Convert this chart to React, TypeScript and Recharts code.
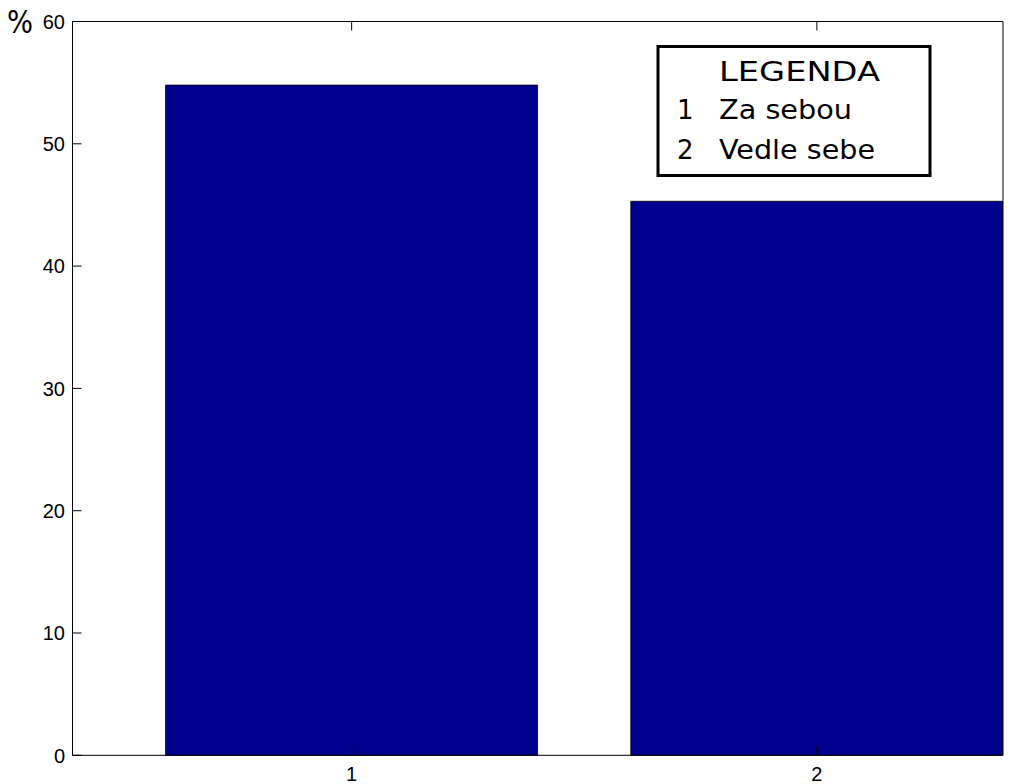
import React from "react";
import { BarChart, Bar, XAxis, YAxis } from "recharts";

const categories = [1, 2];
const percentValues = [54.8, 45.3];
const yTicks = [0, 10, 20, 30, 40, 50, 60];
const xTicks = [1, 2];
const legendTitle = "LEGENDA";
const legendItems = ["Za sebou", "Vedle sebe"];

const data = categories.map((c, i) => ({ x: c, value: percentValues[i] }));

const TICK_LEN = 9;
const tickFont = "'Liberation Sans', Arial, Helvetica, sans-serif";

const LeftTick = (props: any) => {
  const { x, y, payload } = props;
  return (
    <g>
      <line x1={x} x2={x + TICK_LEN} y1={y} y2={y} stroke="#000" strokeWidth={1} />
      <text x={x - 7.5} y={y} dy="0.36em" textAnchor="end" fontFamily={tickFont} fontSize={20} fill="#000">
        {payload.value}
      </text>
    </g>
  );
};

const RightTick = (props: any) => {
  const { x, y } = props;
  return <line x1={x} x2={x - TICK_LEN} y1={y} y2={y} stroke="#000" strokeWidth={1} />;
};

const BottomTick = (props: any) => {
  const { x, y, payload } = props;
  return (
    <g>
      <line x1={x} x2={x} y1={y} y2={y - TICK_LEN} stroke="#000" strokeWidth={1} />
      <text x={x} y={y + 25.7} textAnchor="middle" fontFamily={tickFont} fontSize={20} fill="#000">
        {payload.value}
      </text>
    </g>
  );
};

const TopTick = (props: any) => {
  const { x, y } = props;
  return <line x1={x} x2={x} y1={y} y2={y + TICK_LEN} stroke="#000" strokeWidth={1} />;
};

const legendFont = "'DejaVu Sans', 'Open Sans', sans-serif";

export default function App() {
  return (
    <div style={{ position: "relative", width: 1016, height: 776 }}>
      <BarChart
        width={1016}
        height={776}
        data={data}
        margin={{ top: 12.5, right: 20, bottom: 0, left: 0 }}
        barCategoryGap="10%"
      >
        <XAxis
          xAxisId="bottom"
          dataKey="x"
          type="number"
          domain={[0.4, 2.4]}
          ticks={xTicks}
          allowDataOverflow
          height={28.7}
          tickSize={0}
          tickMargin={0}
          tickLine={false}
          axisLine={{ stroke: "#000", strokeWidth: 1 }}
          tick={<BottomTick />}
        />
        <XAxis
          xAxisId="top"
          orientation="top"
          dataKey="x"
          type="number"
          domain={[0.4, 2.4]}
          ticks={xTicks}
          allowDataOverflow
          height={1}
          tickSize={0}
          tickMargin={0}
          tickLine={false}
          axisLine={{ stroke: "#000", strokeWidth: 1 }}
          tick={<TopTick />}
        />
        <YAxis
          yAxisId="left"
          domain={[0, 60]}
          ticks={yTicks}
          width={64.5}
          tickSize={0}
          tickMargin={0}
          tickLine={false}
          axisLine={{ stroke: "#000", strokeWidth: 1 }}
          tick={<LeftTick />}
        />
        <YAxis
          yAxisId="right"
          orientation="right"
          domain={[0, 60]}
          ticks={yTicks}
          width={1}
          tickSize={0}
          tickMargin={0}
          tickLine={false}
          axisLine={{ stroke: "#000", strokeWidth: 1 }}
          tick={<RightTick />}
        />
        <Bar
          dataKey="value"
          xAxisId="bottom"
          yAxisId="left"
          fill="#00008F"
          stroke="#000"
          strokeWidth={0.8}
          isAnimationActive={false}
        />
      </BarChart>
      <svg
        width={1024}
        height={784}
        style={{ position: "absolute", left: -8, top: -8, pointerEvents: "none" }}
      >
        <text x={7} y={32.5} fontFamily={legendFont} fontSize={32} textLength={26} lengthAdjust="spacingAndGlyphs" fill="#000">
          %
        </text>
        <rect x={658} y={46.5} width={272} height={129} fill="#fff" stroke="#000" strokeWidth={3} />
        <text x={719} y={80.7} fontFamily={legendFont} fontSize={26} textLength={161} lengthAdjust="spacingAndGlyphs" fill="#000">
          {legendTitle}
        </text>
        {legendItems.map((item, i) => (
          <g key={item}>
            <text x={677} y={119 + i * 40} fontFamily={legendFont} fontSize={26} fill="#000">
              {String(categories[i])}
            </text>
            <text
              x={719}
              y={119 + i * 40}
              fontFamily={legendFont}
              fontSize={26}
              textLength={i === 0 ? 133 : 156}
              lengthAdjust="spacingAndGlyphs"
              fill="#000"
            >
              {item}
            </text>
          </g>
        ))}
      </svg>
    </div>
  );
}
